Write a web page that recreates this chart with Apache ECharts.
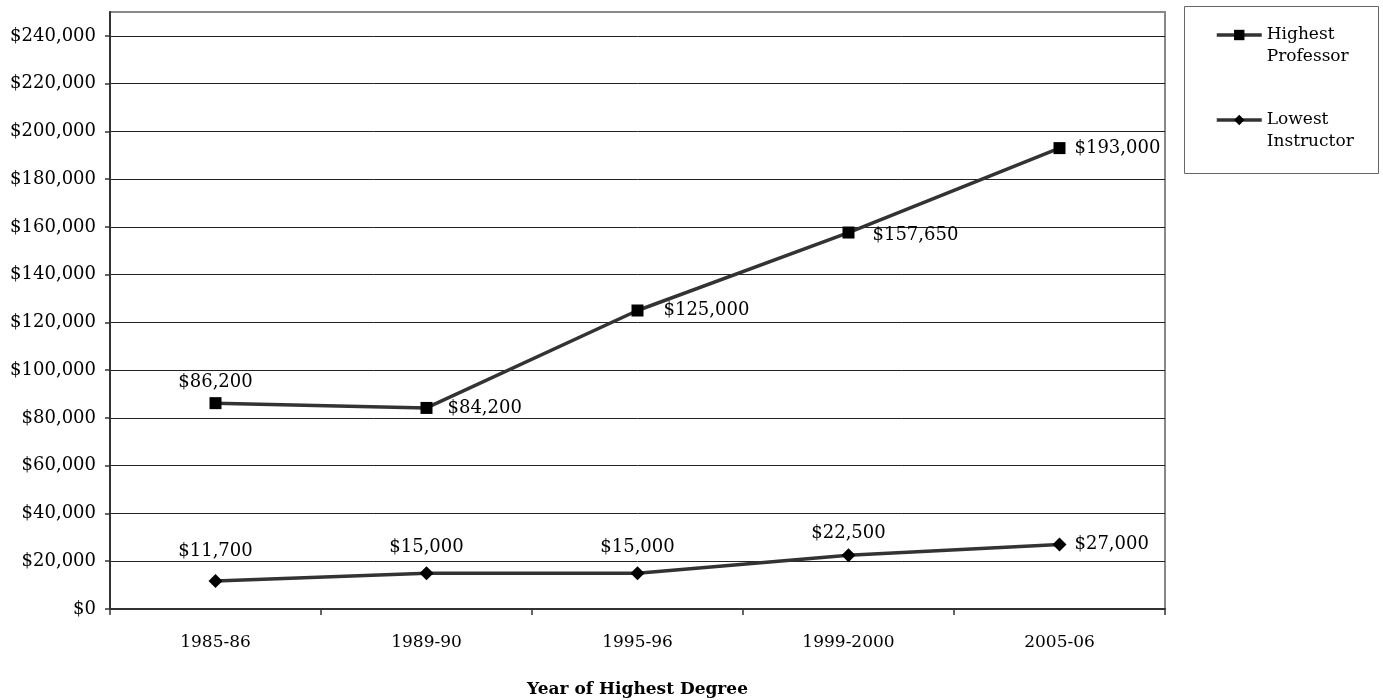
<!DOCTYPE html>
<html>
<head>
<meta charset="utf-8">
<script src="https://cdn.jsdelivr.net/npm/echarts@6/dist/echarts.min.js"></script>
<style>
  html, body { margin: 0; padding: 0; background: #fff; }
  #chart { width: 1383px; height: 700px; }
</style>
</head>
<body>
<div id="chart"></div>
<script>
// Salary range by year of highest degree
const categories = ['1985-86', '1989-90', '1995-96', '1999-2000', '2005-06'];
const highestProfessor = [86200, 84200, 125000, 157650, 193000];
const lowestInstructor = [11700, 15000, 15000, 22500, 27000];
const yTickValues = [0, 20000, 40000, 60000, 80000, 100000, 120000, 140000, 160000, 180000, 200000, 220000, 240000];

const FONT = "'DejaVu Serif', Georgia, serif";
const money = v => '$' + Number(v).toLocaleString('en-US');

// per-point label placement for each series
const profLabels = [
  { position: 'top', distance: 6 },
  { position: 'right', distance: 15 },
  { position: 'right', distance: 20 },
  { position: 'right', distance: 18, offset: [0, 3] },
  { position: 'right', distance: 9 }
];
const instLabels = [
  { position: 'top', distance: 14 },
  { position: 'top', distance: 10 },
  { position: 'top', distance: 10 },
  { position: 'top', distance: 6 },
  { position: 'right', distance: 8 }
];

function buildData(values, labels) {
  return values.map((v, i) => ({ value: v, label: labels[i] }));
}

const labelStyle = {
  show: true,
  color: '#000',
  fontFamily: FONT,
  fontSize: 18,
  formatter: p => money(p.value)
};

// legend entry: a leading blank line keeps the icon level with the first word
function legendBlock(name, top) {
  return {
    data: [name],
    orient: 'vertical',
    left: 1215, top: top,
    padding: 0,
    itemWidth: 45, itemHeight: 13,
    lineStyle: { color: '#333', width: 3.5 },
    formatter: n => '\n' + n.replace(' ', '\n'),
    textStyle: { fontFamily: FONT, fontSize: 17, color: '#000', lineHeight: 22 },
    z: 5
  };
}

const chart = echarts.init(document.getElementById('chart'), null, { renderer: 'canvas' });
chart.setOption({
  animation: false,
  backgroundColor: '#fff',
  grid: {
    left: 110, right: 218, top: 12, bottom: 91,
    outerBoundsMode: 'none',
    containLabel: false,
    show: true, borderColor: '#888', borderWidth: 2
  },
  graphic: [{
    type: 'rect',
    shape: { x: 1184.5, y: 6.5, width: 194, height: 167 },
    style: { fill: '#fff', stroke: '#666', lineWidth: 1 },
    z: 0
  }],
  legend: [legendBlock('Highest Professor', 2), legendBlock('Lowest Instructor', 87)],
  xAxis: {
    type: 'category',
    data: categories,
    boundaryGap: true,
    name: 'Year of Highest Degree',
    nameLocation: 'middle',
    nameGap: 72,
    nameTextStyle: { fontFamily: FONT, fontSize: 17, fontWeight: 'bold', color: '#000' },
    axisLine: { lineStyle: { color: '#333', width: 2 } },
    axisTick: { show: true, alignWithLabel: false, length: 6, lineStyle: { color: '#333', width: 1.5 } },
    axisLabel: { fontFamily: FONT, fontSize: 17, color: '#000', margin: 25 },
    splitLine: { show: false }
  },
  yAxis: {
    type: 'value',
    min: 0, max: 250000, interval: 10000,
    axisLine: { show: true, lineStyle: { color: '#333', width: 2 } },
    axisTick: { show: true, length: 5, lineStyle: { color: '#333', width: 1.5 }, customValues: yTickValues },
    axisLabel: {
      fontFamily: FONT, fontSize: 18, color: '#000', margin: 14,
      customValues: yTickValues,
      formatter: v => money(v)
    },
    splitLine: { show: true, lineStyle: { color: '#222', width: 1 } },
    minorTick: { show: false }
  },
  series: [{
    name: 'Highest Professor',
    type: 'line',
    data: buildData(highestProfessor, profLabels),
    symbol: 'rect',
    symbolSize: 12,
    itemStyle: { color: '#000' },
    lineStyle: { color: '#333', width: 3.5 },
    label: labelStyle,
    z: 3
  }, {
    name: 'Lowest Instructor',
    type: 'line',
    data: buildData(lowestInstructor, instLabels),
    symbol: 'diamond',
    symbolSize: 14,
    itemStyle: { color: '#000' },
    lineStyle: { color: '#333', width: 3.5 },
    label: labelStyle,
    z: 3
  }]
});
</script>
</body>
</html>
